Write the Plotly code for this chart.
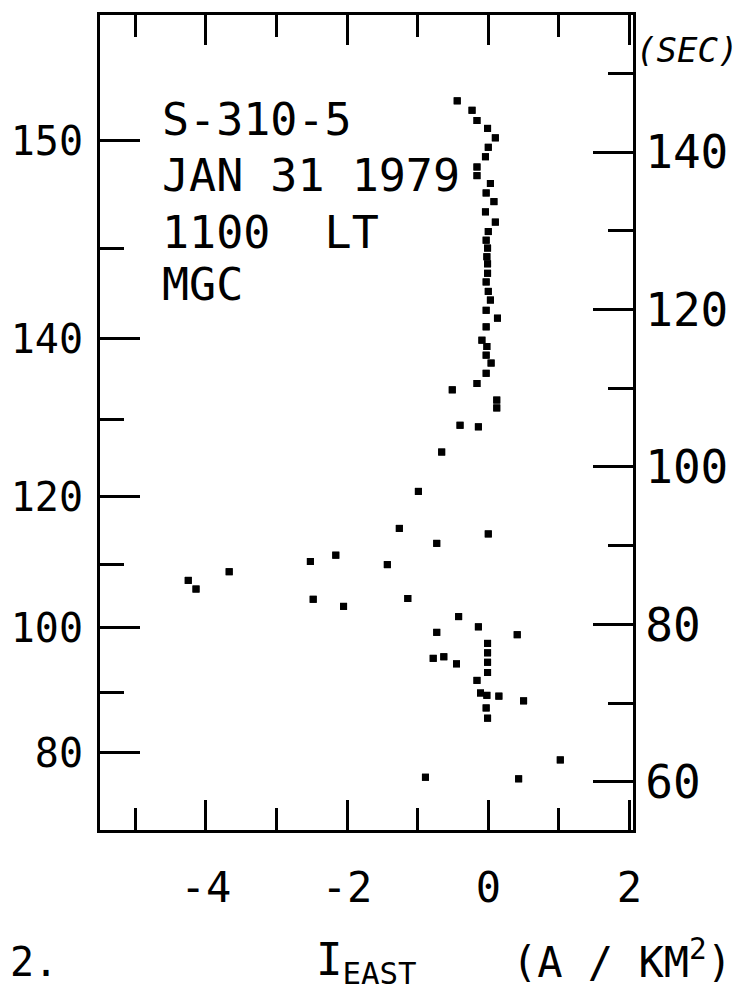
import plotly.graph_objects as go

# Eastward current (A/km^2) vs flight time (s)
current = [-0.44, -0.23, -0.16, -0.01, 0.10, 0.00, -0.04, -0.16, -0.16, 0.03,
           -0.03, 0.08, -0.04, 0.10, 0.00, -0.03, -0.01, -0.02, -0.01, -0.01,
           -0.03, 0.00, 0.03, -0.03, 0.13, -0.03, -0.09, -0.02, -0.03, 0.04,
           -0.03, -0.16, -0.51, 0.12, 0.12, -0.40, -0.14, -0.66, -0.99, -1.26,
           -0.73, 0.00, -2.16, -2.52, -1.43, -2.48, -2.05, -1.14, -0.42, -0.14,
           -0.73, 0.41, -0.78, -0.63, -0.45, -0.01, -0.01, -0.01, -0.01, -0.16,
           -0.11, -0.02, 0.15, 0.50, -0.03, -0.01, -4.25, -4.14, -3.67, -0.89,
           0.43, 1.02]
time_s = [146.5, 145.3, 144.0, 143.0, 141.8, 140.6, 139.4, 138.1, 137.0, 136.0,
          134.8, 133.7, 132.4, 131.1, 129.9, 128.8, 127.8, 126.7, 125.8, 124.6,
          123.5, 122.3, 121.2, 119.9, 118.9, 117.8, 116.1, 115.3, 114.2, 113.2,
          111.9, 110.6, 109.8, 108.5, 107.5, 105.3, 105.1, 101.9, 96.9, 92.2,
          90.3, 91.5, 88.8, 88.0, 87.6, 83.2, 82.3, 83.3, 81.0, 79.7,
          79.0, 78.7, 75.7, 75.9, 75.0, 77.6, 76.4, 75.2, 73.9, 72.9,
          71.3, 71.0, 70.9, 70.3, 69.4, 68.1, 85.6, 84.5, 86.7, 60.6,
          60.4, 62.8]

# Left axis: altitude (km) labels placed at corresponding flight times
alt_major_time = [141.4, 116.3, 96.2, 79.6, 63.7]
alt_major_text = ["150", "140", "120", "100", "80"]
alt_minor_time = [127.8, 106.0, 87.6, 71.3]

# Right axis: time (s)
time_major = [60, 80, 100, 120, 140]
time_minor = [70, 90, 110, 130, 150]

x_major = [-4, -2, 0, 2]
x_major_text = ["-4", "-2", "0", "2"]
x_minor = [-5, -3, -1, 1]

info_lines = ["S-310-5", "JAN 31 1979", "1100  LT", "MGC"]

FONT = "DejaVu Sans Mono"

fig = go.Figure()
marker = dict(symbol="square", size=7, color="black")
fig.add_trace(go.Scatter(x=current, y=time_s, mode="markers", marker=marker,
                         xaxis="x", yaxis="y", hoverinfo="skip", showlegend=False))
fig.add_trace(go.Scatter(x=current, y=time_s, mode="markers", marker=marker,
                         xaxis="x", yaxis="y2", hoverinfo="skip", showlegend=False))

yrange = [53.9, 157.4]
fig.update_layout(
    width=740, height=985,
    margin=dict(l=92, r=115, t=7, b=163),
    paper_bgcolor="white", plot_bgcolor="white",
    font=dict(family=FONT, color="black"),
    xaxis=dict(range=[-5.5, 2.05], showgrid=False, zeroline=False, automargin=False,
               showline=True, linewidth=3, linecolor="black", mirror="ticks",
               tickmode="array", tickvals=x_major, ticktext=x_major_text,
               ticks="inside", ticklen=30, tickwidth=3, tickcolor="black",
               tickfont=dict(size=42, family=FONT), ticklabelstandoff=19,
               minor=dict(tickmode="array", tickvals=x_minor, ticks="inside",
                          ticklen=22, tickwidth=3, tickcolor="black")),
    yaxis=dict(range=yrange, showgrid=False, zeroline=False, automargin=False,
               showline=True, linewidth=3, linecolor="black",
               tickmode="array", tickvals=alt_major_time, ticktext=alt_major_text,
               ticks="inside", ticklen=40, tickwidth=3, tickcolor="black",
               tickfont=dict(size=40, family=FONT), ticklabelstandoff=6,
               minor=dict(tickmode="array", tickvals=alt_minor_time, ticks="inside",
                          ticklen=24, tickwidth=3, tickcolor="black")),
    yaxis2=dict(range=yrange, overlaying="y", side="right", anchor="x",
                showgrid=False, zeroline=False, automargin=False,
                showline=True, linewidth=3, linecolor="black",
                tickmode="array", tickvals=time_major,
                ticktext=[str(v) for v in time_major],
                ticks="inside", ticklen=40, tickwidth=3, tickcolor="black",
                tickfont=dict(size=46, family=FONT), ticklabelstandoff=0,
                minor=dict(tickmode="array", tickvals=time_minor, ticks="inside",
                           ticklen=25, tickwidth=3, tickcolor="black")),
)

# annotation placement helpers (page pixels -> paper fraction)
W, H = 533.0, 815.0
def px_x(p):
    return (p - 100) / W
def px_y(p):
    return (830 - p) / H

for line, yc in zip(info_lines, [119, 176, 232, 284]):
    fig.add_annotation(text=line, xref="paper", yref="paper",
                       x=px_x(160), y=px_y(yc), xanchor="left", yanchor="middle",
                       showarrow=False, font=dict(size=45, family=FONT))

fig.add_annotation(text="<i>(SEC)</i>", xref="paper", yref="paper",
                   x=px_x(634), y=px_y(50), xanchor="left", yanchor="middle",
                   showarrow=False, font=dict(size=34, family=FONT))

fig.add_annotation(text="I<sub>EAST</sub>", xref="paper", yref="paper",
                   x=px_x(314), y=px_y(962), xanchor="left", yanchor="middle",
                   showarrow=False, font=dict(size=44, family=FONT))
fig.add_annotation(text="(A / KM<sup>2</sup>)", xref="paper", yref="paper",
                   x=px_x(510), y=px_y(959), xanchor="left", yanchor="middle",
                   showarrow=False, font=dict(size=42, family=FONT))
fig.add_annotation(text="2.", xref="paper", yref="paper",
                   x=px_x(8), y=px_y(962), xanchor="left", yanchor="middle",
                   showarrow=False, font=dict(size=40, family=FONT))

fig.write_html("out.html")
